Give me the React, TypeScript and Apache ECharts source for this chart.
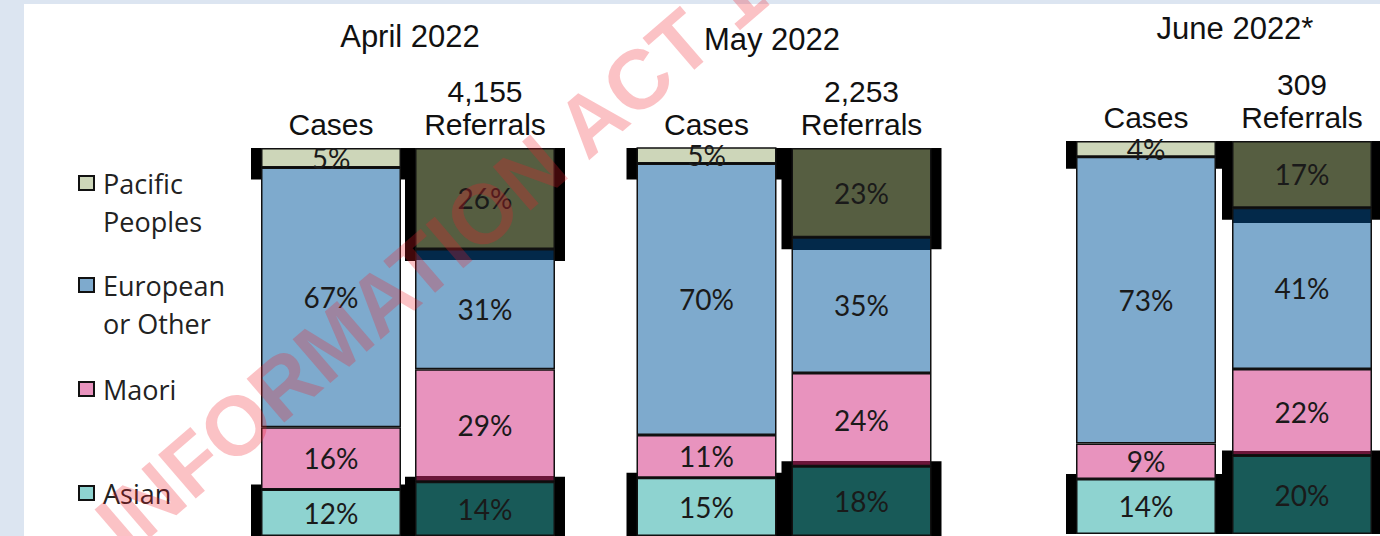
import React, { useEffect, useRef } from 'react';
import * as echarts from 'echarts';

// ---- data ----
const months = ['April 2022', 'May 2022', 'June 2022*'];
const groups = ['Cases', 'Referrals'];
const referralCounts = ['4,155', '2,253', '309'];
const seriesNames = ['Asian', 'Maori', 'European or Other', 'Pacific Peoples'];
// per month: [Cases, Referrals] in %
const asianPct = [[12, 14], [15, 18], [14, 20]];
const maoriPct = [[16, 29], [11, 24], [9, 22]];
const europeanPct = [[67, 31], [70, 35], [73, 41]];
const pacificPct = [[5, 26], [5, 23], [4, 17]];
const legendOrder = ['Pacific Peoples', 'European or Other', 'Maori', 'Asian'];
const watermarkText = 'INFORMATION ACT 1982';

// ---- styles ----
const CASE_COLORS = ['#8ed3d0', '#e893be', '#7eaacd', '#cdd6b9'];
const REF_COLORS = ['#185a58', '#e893be', '#7eaacd', '#565e41'];
const NAVY = '#03294a';
const MAROON = '#6b1539';
const GRIDS = [
  { left: 254, top: 148, width: 308, height: 391 },
  { left: 629, top: 148, width: 310, height: 391 },
  { left: 1068, top: 141, width: 316, height: 393 },
];
const TITLE_POS = [
  { x: 410, y: 36 },
  { x: 772, y: 39 },
  { x: 1235, y: 28 },
];
const LEGEND_TOPS = [126, 228, 370, 474];
const BAR_W = 140;

function refColor(s: number) {
  if (s === 2) {
    return {
      type: 'linear', x: 0, y: 0, x2: 0, y2: 1,
      colorStops: [
        { offset: 0, color: NAVY }, { offset: 0.09, color: NAVY },
        { offset: 0.09, color: REF_COLORS[2] }, { offset: 1, color: REF_COLORS[2] },
      ],
    };
  }
  if (s === 1) {
    return {
      type: 'linear', x: 0, y: 0, x2: 0, y2: 1,
      colorStops: [
        { offset: 0, color: REF_COLORS[1] }, { offset: 0.955, color: REF_COLORS[1] },
        { offset: 0.955, color: MAROON }, { offset: 1, color: MAROON },
      ],
    };
  }
  return REF_COLORS[s];
}

export default function App() {
  const ref = useRef<HTMLDivElement>(null);
  useEffect(() => {
    if (!ref.current) return;
    const chart = echarts.init(ref.current, null, { renderer: 'svg' });
    const values = [asianPct, maoriPct, europeanPct, pacificPct];

    const series: any[] = [];
    months.forEach((_, m) => {
      series.push({
        type: 'custom',
        name: 'shade' + m,
        xAxisIndex: m,
        yAxisIndex: m,
        z: 1,
        silent: true,
        data: [
          [0, 100, 100 - pacificPct[m][0]],
          [1, 100, 100 - pacificPct[m][1]],
          [0, asianPct[m][0], 0],
          [1, asianPct[m][1], 0],
        ],
        renderItem: (params: any, api: any) => {
          const c = api.value(0);
          const a = api.value(1);
          const b = api.value(2);
          const p1 = api.coord([c, a]);
          const p2 = api.coord([c, b]);
          const isBottom = b === 0;
          const top = isBottom ? p1[1] - 5 : p1[1];
          const bottom = isBottom ? p2[1] : p2[1] + 12;
          return {
            type: 'rect',
            shape: { x: p1[0] - BAR_W / 2 - 10, y: top, width: BAR_W + 20, height: bottom - top },
            style: { fill: '#000' },
          };
        },
      });
      seriesNames.forEach((name, s) => {
        series.push({
          type: 'bar',
          name,
          xAxisIndex: m,
          yAxisIndex: m,
          stack: 'm' + m,
          barWidth: BAR_W,
          z: 2,
          itemStyle: { color: CASE_COLORS[s], borderColor: '#111', borderWidth: 1.5 },
          label: {
            show: true,
            position: 'inside',
            formatter: '{c}%',
            fontFamily: 'Lato',
            fontSize: 28,
            lineHeight: 20,
            color: '#1a1a1a',
          },
          data: values[s][m].map((v, j) => ({
            value: v,
            itemStyle: { color: j === 0 ? CASE_COLORS[s] : refColor(s) },
          })),
        });
      });
    });

    const option: any = {
      animation: false,
      backgroundColor: '#dce5f1',
      grid: GRIDS.map((g) => ({ ...g, containLabel: false })),
      xAxis: months.map((_, m) => ({
        type: 'category',
        gridIndex: m,
        position: 'top',
        data: groups,
        axisLine: { show: false },
        axisTick: { show: false },
        axisLabel: {
          interval: 0,
          margin: 7,
          fontFamily: 'Liberation Sans, Arial',
          fontSize: 30,
          lineHeight: 33,
          color: '#111',
          formatter: (v: string, idx: number) => (idx === 1 ? referralCounts[m] + '\n' + v : v),
        },
      })),
      yAxis: months.map((_, m) => ({ type: 'value', gridIndex: m, min: 0, max: 100, show: false })),
      legend: legendOrder.map((name, i) => {
        const multi = name === 'Pacific Peoples' || name === 'European or Other';
        return {
          data: [name],
          left: 78,
          top: LEGEND_TOPS[i],
          orient: 'vertical',
          padding: 0,
          itemWidth: 15,
          itemHeight: 14,
          icon: 'rect',
          selectedMode: false,
          itemStyle: { borderColor: '#111', borderWidth: 2 },
          formatter: (n: string) => (multi ? '\n' + n.replace(' ', '\n') : n),
          textStyle: {
            fontFamily: 'Open Sans',
            fontSize: 27,
            lineHeight: 38,
            color: '#222',
            padding: [0, 0, 0, 4],
          },
        };
      }),
      graphic: [
        {
          type: 'rect',
          z: -10,
          silent: true,
          shape: { x: 24, y: 4, width: 1400, height: 600 },
          style: { fill: '#ffffff' },
        },
        ...months.map((t, m) => ({
          type: 'text',
          x: TITLE_POS[m].x,
          y: TITLE_POS[m].y,
          z: 5,
          style: {
            text: t,
            textAlign: 'center',
            textVerticalAlign: 'middle',
            fontFamily: 'Liberation Sans, Arial',
            fontSize: 31,
            fill: '#111',
          },
        })),
        {
          type: 'text',
          x: 109,
          y: 535,
          rotation: (40.7 * Math.PI) / 180,
          z: 100,
          silent: true,
          style: {
            text: watermarkText,
            textAlign: 'left',
            textVerticalAlign: 'middle',
            fontFamily: 'Liberation Sans, Arial',
            fontWeight: 'bold',
            fontSize: 84,
            fill: 'rgba(240, 30, 40, 0.27)',
          },
        },
      ],
      series,
    };
    chart.setOption(option);
    return () => chart.dispose();
  }, []);
  return (
    <div
      ref={ref}
      style={{ position: 'absolute', left: 0, top: 0, width: 1380, height: 536 }}
    />
  );
}
